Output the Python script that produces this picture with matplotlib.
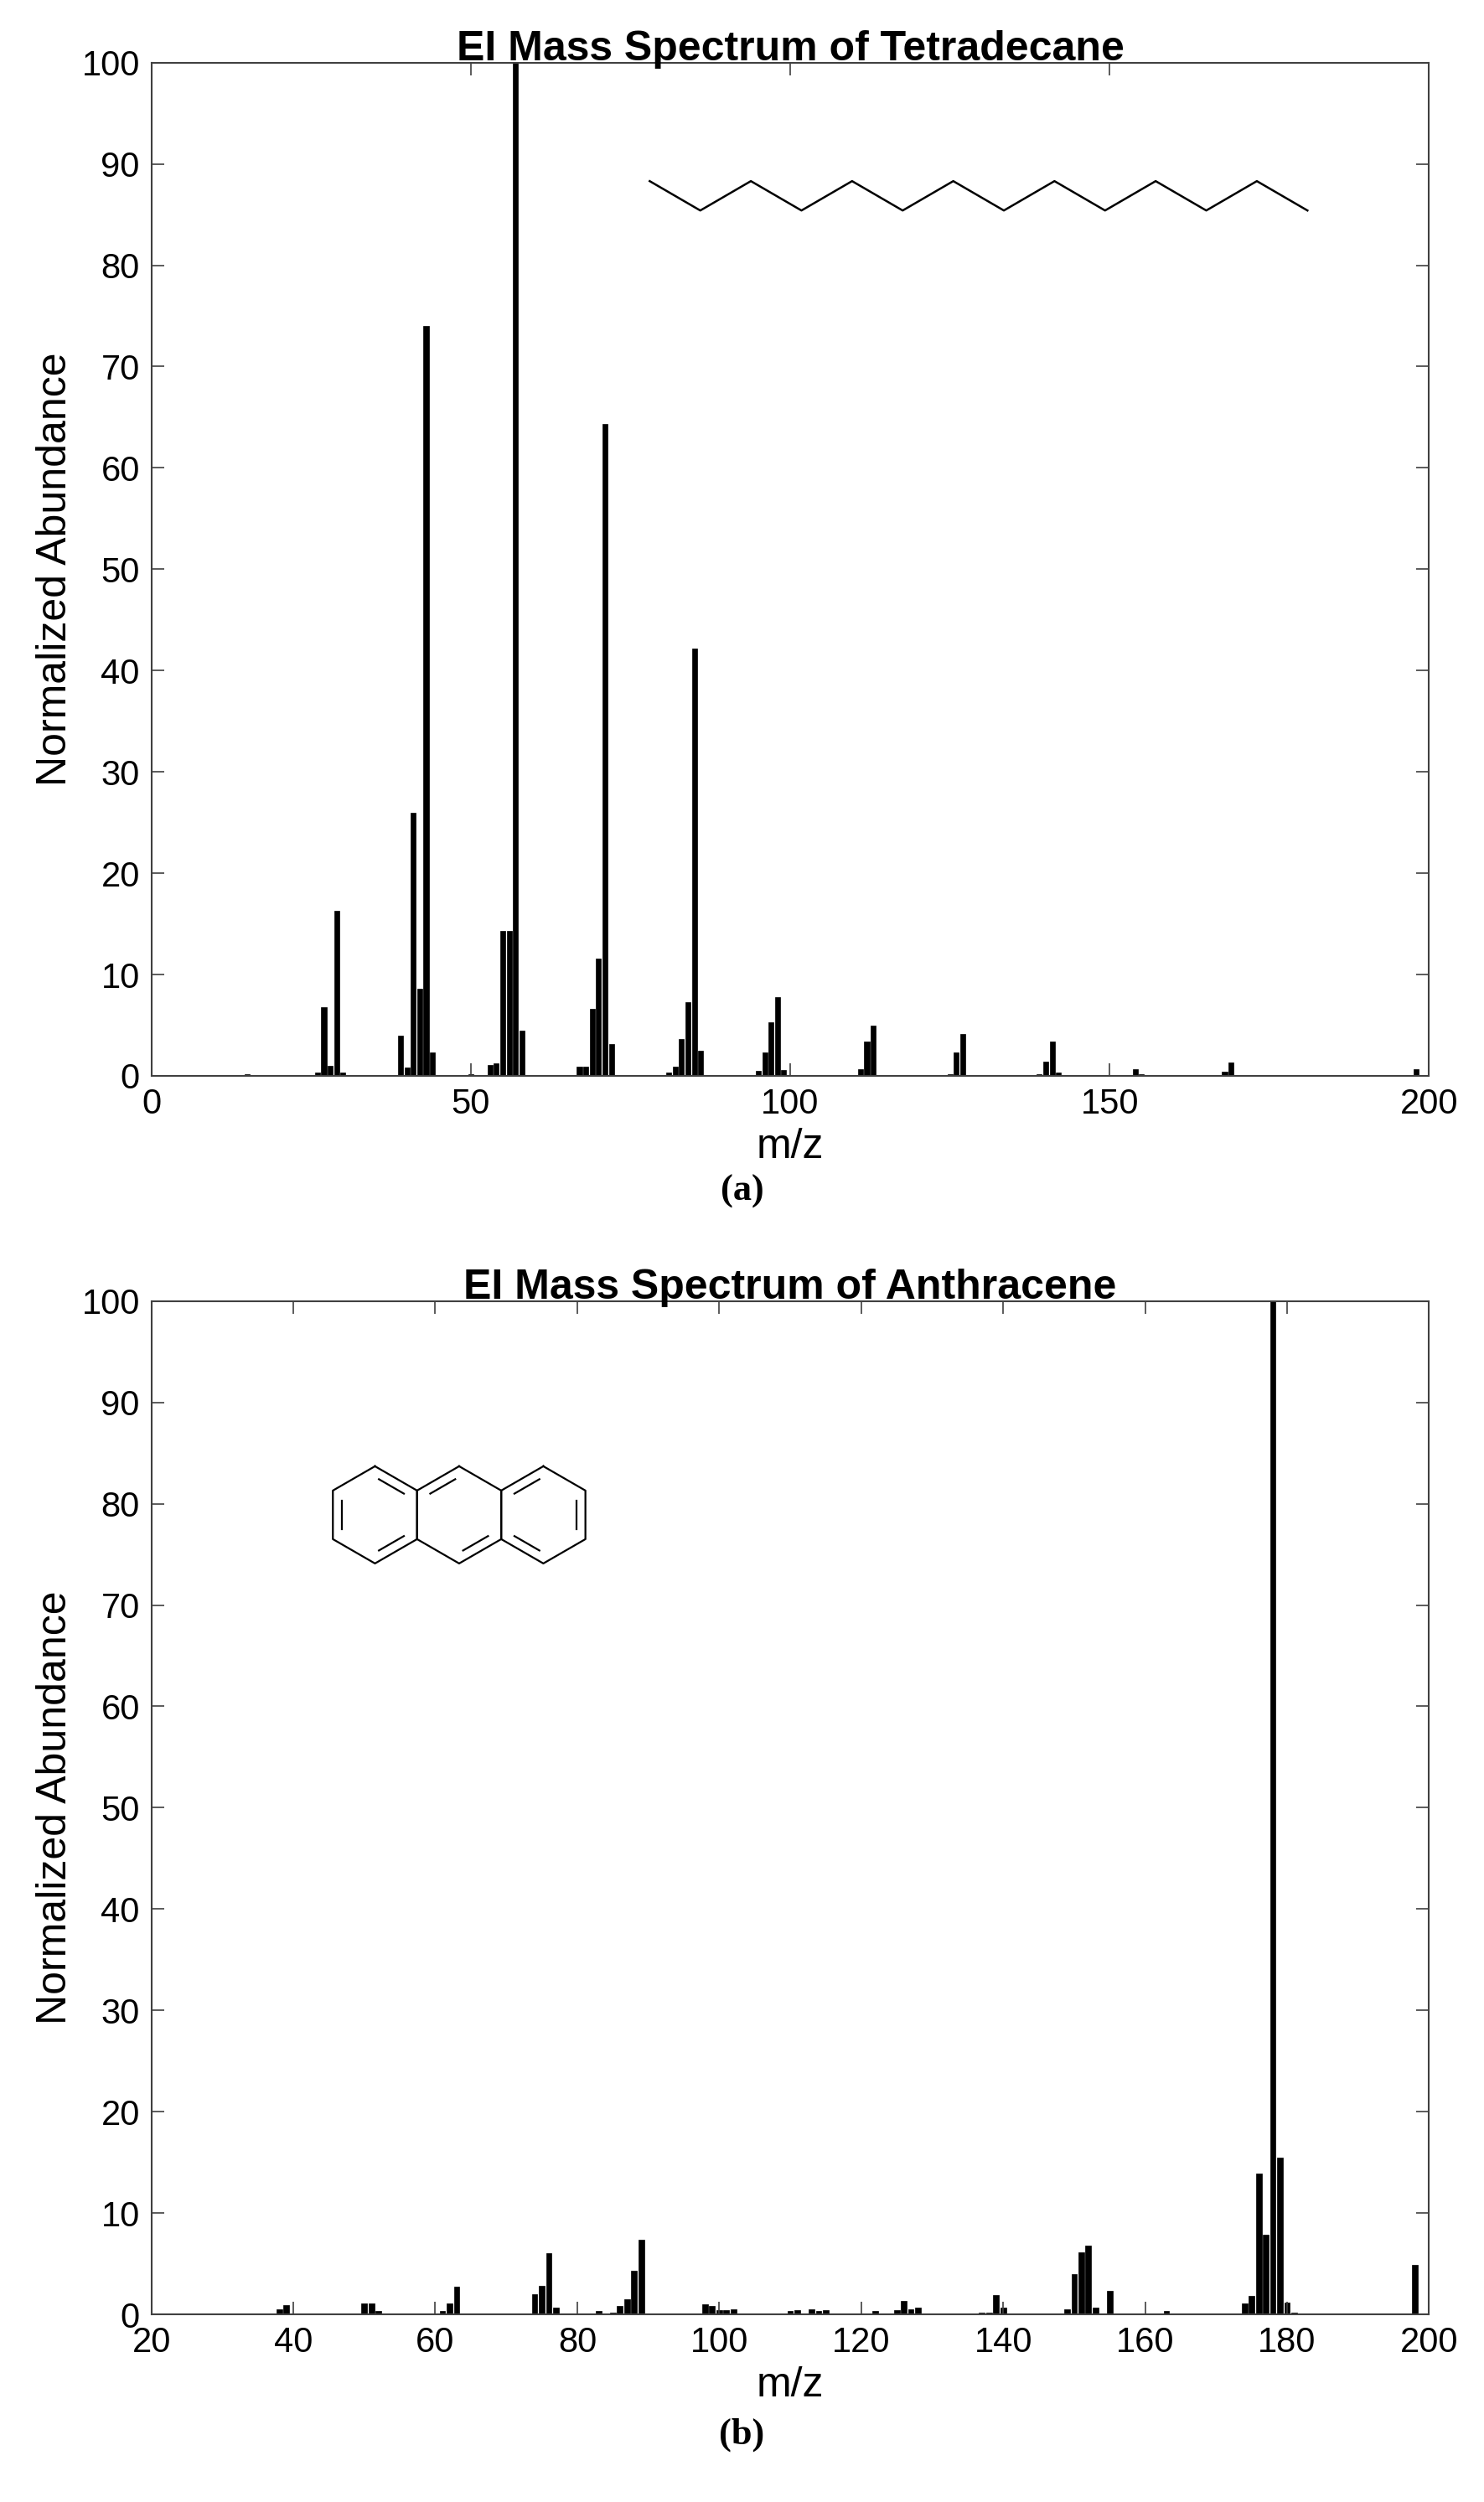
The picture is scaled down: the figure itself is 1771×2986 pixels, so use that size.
import numpy as np
import matplotlib
matplotlib.use("Agg")
import matplotlib.pyplot as plt

plt.rcParams['font.family'] = ['Arial', 'Liberation Sans', 'DejaVu Sans']

# tetradecane EI spectrum (m/z, abundance)
tet_mz = [15, 26, 27, 28, 29, 30, 39, 40, 41, 42, 43, 44, 50, 53, 54, 55, 56, 57, 58,
          65, 67, 68, 69, 70, 71, 72, 81, 82, 83, 84, 85, 86, 95, 96, 97, 98, 99,
          111, 112, 113, 125, 126, 127, 139, 140, 141, 142, 154, 155, 168, 169, 198]
tet_ab = [0.2, 0.3, 6.8, 1.0, 16.3, 0.3, 4.0, 0.8, 26.0, 8.6, 74.0, 2.3, 0.2, 1.1, 1.2, 14.3, 14.3, 100, 4.5,
          0.1, 0.9, 0.9, 6.6, 11.6, 64.3, 3.1, 0.3, 0.9, 3.6, 7.3, 42.2, 2.5, 0.5, 2.3, 5.3, 7.8, 0.6,
          0.7, 3.4, 5.0, 0.2, 2.3, 4.1, 0.2, 1.4, 3.4, 0.3, 0.7, 0.2, 0.4, 1.3, 0.7]

# anthracene EI spectrum
ant_mz = [27, 38, 39, 50, 51, 52, 61, 62, 63, 64, 65, 69, 74, 75, 76, 77, 83, 85, 86, 87, 88, 89,
          98, 99, 100, 101, 102, 110, 111, 113, 114, 115, 122, 123, 124, 125, 126, 127, 128,
          137, 138, 139, 140, 149, 150, 151, 152, 153, 155, 163, 164,
          174, 175, 176, 177, 178, 179, 180, 181, 198]
ant_ab = [0.1, 0.5, 0.9, 1.1, 1.1, 0.3, 0.3, 1.1, 2.7, 0.1, 0.1, 0.1, 2.0, 2.8, 6.0, 0.7, 0.3, 0.2, 0.8, 1.5, 4.3, 7.4,
          1.0, 0.8, 0.4, 0.4, 0.5, 0.3, 0.4, 0.5, 0.3, 0.4, 0.3, 0.1, 0.1, 0.4, 1.3, 0.5, 0.7,
          0.2, 0.2, 1.9, 0.7, 0.5, 4.0, 6.1, 6.8, 0.7, 2.3, 0.3, 0.1,
          1.1, 1.8, 13.9, 7.9, 100, 15.5, 1.2, 0.2, 4.9]

fig = plt.figure(figsize=(17.71, 29.86), dpi=100)
ax1 = fig.add_axes([0.102, 0.570, 0.861, 0.405])
ax2 = fig.add_axes([0.102, 0.075, 0.861, 0.405])

def style(ax, title, xlim, xticks):
    ax.set_xlim(*xlim)
    ax.set_ylim(0, 100)
    ax.set_xticks(xticks)
    ax.set_yticks(range(0, 101, 10))
    ax.tick_params(direction='in', length=11, width=1.2, labelsize=30, pad=10,
                   top=True, right=True, color='#404040')
    for s in ax.spines.values():
        s.set_color('#404040')
        s.set_linewidth(1.5)
    ax.set_title(title, fontsize=36, fontweight='bold', pad=2)
    ax.set_xlabel('m/z', fontsize=36, labelpad=6)
    ax.set_ylabel('Normalized Abundance', fontsize=36, labelpad=6)

ax1.bar(tet_mz, tet_ab, width=0.8, color='black', edgecolor='black', linewidth=0.5)
style(ax1, 'EI Mass Spectrum of Tetradecane', (0, 200), range(0, 201, 50))
ax2.bar(ant_mz, ant_ab, width=0.8, color='black', edgecolor='black', linewidth=0.5)
style(ax2, 'EI Mass Spectrum of Anthracene', (20, 200), range(20, 201, 20))

# tetradecane skeleton (zigzag)
zx = 78 + 7.92 * np.arange(14)
zy = np.where(np.arange(14) % 2 == 0, 88.3, 85.4)
ax1.plot(zx, zy, color='black', lw=1.8)

# anthracene skeleton, drawn in pixel space then mapped to data
pxu, pyu = 0.861 * 1771 / 180, 0.405 * 2986 / 100
r = 58.0
cx0, cy0 = (51.5 - 20) * pxu, 78.9 * pyu
ang = np.deg2rad(90 + 60 * np.arange(7))
def todata(x, y):
    return np.asarray(x) / pxu + 20, np.asarray(y) / pyu

def inner(hx, hy, cx, e):
    a = np.array([hx[e], hy[e]]); b = np.array([hx[e + 1], hy[e + 1]])
    c = np.array([cx, cy0])
    a2, b2 = c + 0.78 * (a - c), c + 0.78 * (b - c)
    p, q = a2 + 0.12 * (b2 - a2), b2 - 0.12 * (b2 - a2)
    ax2.plot(*todata([p[0], q[0]], [p[1], q[1]]), color='black', lw=1.6)

double = {0: [1, 3, 5], 1: [0, 3], 2: [0, 2, 4]}
for k in range(3):
    cx = cx0 + k * np.sqrt(3) * r
    hx, hy = cx + r * np.cos(ang), cy0 + r * np.sin(ang)
    ax2.plot(*todata(hx, hy), color='black', lw=1.6)
    for e in double[k]:
        inner(hx, hy, cx, e)

fig.text(0.5, 0.524, '(a)', ha='center', va='center', fontsize=32, fontweight='bold',
         family=['Liberation Serif', 'DejaVu Serif'])
fig.text(0.5, 0.027, '(b)', ha='center', va='center', fontsize=32, fontweight='bold',
         family=['Liberation Serif', 'DejaVu Serif'])

fig.savefig('out.png', dpi=100, facecolor='white')
